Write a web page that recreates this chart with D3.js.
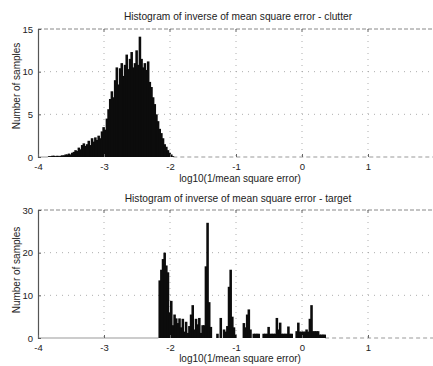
<!DOCTYPE html>
<html><head><meta charset="utf-8">
<script src="https://cdn.jsdelivr.net/npm/d3@7"></script>
<style>
html,body{margin:0;padding:0;background:#fff;}
svg text{font-family:"Liberation Sans",Arial,Helvetica,sans-serif;fill:#222;}
</style></head>
<body><svg id="c" width="433" height="366"></svg>
<script>
// ---- data ----
const xTicks = [-4, -3, -2, -1, 0, 1];
const clutterTicksY = [0, 5, 10, 15];
const targetTicksY = [0, 10, 20, 30];
const binWidth = 0.025;
const clutterStart = -3.85;
const clutterCounts = [
 0.1,0.1,0.15,0.15,0.1,0.15,0.1,0.15,0.2,0.2,
 0.3,0.3,0.4,0.3,0.5,0.6,0.8,0.7,1.1,0.9,
 1.4,1.6,1.3,1.5,1.9,1.4,2.2,1.8,2.3,2.0,
 2.5,2.2,3.0,3.5,3.2,4.5,5.6,6.8,7.7,7.0,
 9.0,10.5,8.5,10.4,11.0,9.5,10.8,12.0,10.3,11.5,
 12.3,10.5,11.0,12.5,10.8,14.1,11.5,10.5,11.0,10.2,
 11.2,8.8,8.2,7.0,6.2,5.0,4.2,3.3,2.8,2.2,
 1.5,1.2,0.8,0.5,0.3,0.1];
const targetStart = -2.175;
const targetCounts = [
 13.5,16,18.5,20,17,15.4,6,8.7,3,5.5,
 4.6,3.5,4.6,2.5,4.5,1.5,3.8,1.2,2.8,5.5,
 7.7,2,4.5,3.2,4.7,1.2,3,3,16.8,27,
 8.4,2.6,0,0,0,1,0,4.7,0,2,
 1.5,2.8,12,16,5,2.5,0.8,0,0,0,
 0,3.5,2.5,5.5,6.7,2,0,1,1,1,
 1,0,0,1,1,1,2.6,1,1,1,
 1,4.7,2,3.6,1,1,1,1,2.7,1,
 1,0,0,1.6,3.6,1.5,1.5,1.5,1.5,2,
 1.5,4.5,7.7,1.6,1.6,1.6,1.6,0.8,0.8,0.8,
 0.8];
const titles = ["Histogram of inverse of mean square error - clutter",
                "Histogram of inverse of mean square error - target"];
const xLabel = "log10(1/mean square error)";
const yLabel = "Number of samples";

// ---- drawing ----
const svg = d3.select("#c");
const x = d3.scaleLinear().domain([-4, 2]).range([38, 434]);

function panel(cfg) {
  const y = d3.scaleLinear().domain([0, cfg.yMax]).range([cfg.bottom, cfg.top]);
  const g = svg.append("g");
  // grid
  g.selectAll(".vg").data(xTicks.slice(1)).enter().append("line")
    .attr("x1", d => x(d)).attr("x2", d => x(d))
    .attr("y1", cfg.top).attr("y2", cfg.bottom)
    .attr("stroke", "#999").attr("stroke-width", 0.8).attr("stroke-dasharray", "1,5");
  g.selectAll(".hg").data(cfg.yTicks.slice(1, -1)).enter().append("line")
    .attr("x1", x(-4)).attr("x2", x(2))
    .attr("y1", d => y(d)).attr("y2", d => y(d))
    .attr("stroke", "#999").attr("stroke-width", 0.8).attr("stroke-dasharray", "1,5");
  // top border
  g.append("line").attr("x1", x(-4)).attr("x2", x(2)).attr("y1", cfg.top).attr("y2", cfg.top)
    .attr("stroke", "#888").attr("stroke-width", 1).attr("stroke-dasharray", "4,2");
  // baseline: solid before data, dashed after
  const first = cfg.start, last = cfg.start + cfg.counts.length * binWidth;
  g.append("line").attr("x1", x(-4)).attr("x2", x(first)).attr("y1", cfg.bottom).attr("y2", cfg.bottom)
    .attr("stroke", "#999").attr("stroke-width", 1);
  g.append("line").attr("x1", x(last)).attr("x2", x(2)).attr("y1", cfg.bottom).attr("y2", cfg.bottom)
    .attr("stroke", "#999").attr("stroke-width", 1).attr("stroke-dasharray", "4,3");
  // bars
  g.selectAll(".bar").data(cfg.counts).enter().append("rect")
    .attr("x", (d, i) => x(cfg.start + i * binWidth))
    .attr("width", (d, i) => x(cfg.start + (i + 1) * binWidth) - x(cfg.start + i * binWidth) + 0.9)
    .attr("y", d => y(d))
    .attr("height", d => y(0) - y(d))
    .attr("fill", "#0c0c0c");
  // left axis
  const ya = d3.axisLeft(y).tickValues(cfg.yTicks).tickSize(-3).tickPadding(5).tickFormat(d3.format("d"));
  const yg = g.append("g").attr("transform", `translate(${x(-4)},0)`).call(ya);
  yg.select(".domain").attr("stroke", "#555").attr("stroke-width", 1.2);
  yg.selectAll(".tick line").attr("stroke", "#555");
  yg.selectAll("text").attr("font-size", 9.5).attr("fill", "#222");
  // bottom tick labels + inward ticks
  const xa = d3.axisBottom(x).tickValues(xTicks).tickSize(-3).tickPadding(6)
    .tickFormat(d => (d < 0 ? "-" + Math.abs(d) : String(d)));
  const xg = g.append("g").attr("transform", `translate(0,${cfg.bottom})`).call(xa);
  xg.select(".domain").remove();
  xg.selectAll(".tick line").attr("stroke", "#666");
  xg.selectAll("text").attr("font-size", 9.5).attr("fill", "#222");
  // top inward ticks
  g.selectAll(".tt").data(xTicks.slice(1)).enter().append("line")
    .attr("x1", d => x(d)).attr("x2", d => x(d))
    .attr("y1", cfg.top).attr("y2", cfg.top + 3).attr("stroke", "#666");
  // title and labels
  g.append("text").attr("x", 238).attr("y", cfg.titleY).attr("text-anchor", "middle")
    .attr("font-size", 10.2).text(cfg.title);
  g.append("text").attr("x", 240).attr("y", cfg.xLabelY).attr("text-anchor", "middle")
    .attr("font-size", 10).text(xLabel);
  g.append("text").attr("transform", `translate(20,${cfg.yLabelY}) rotate(-90)`)
    .attr("text-anchor", "middle").attr("font-size", 10).text(yLabel);
}

panel({top: 29, bottom: 157, yMax: 15, yTicks: clutterTicksY, counts: clutterCounts,
       start: clutterStart, title: titles[0], titleY: 19.5, xLabelY: 181.5, yLabelY: 86});
panel({top: 210, bottom: 338, yMax: 30, yTicks: targetTicksY, counts: targetCounts,
       start: targetStart, title: titles[1], titleY: 201.5, xLabelY: 361.5, yLabelY: 270});
</script></body></html>
